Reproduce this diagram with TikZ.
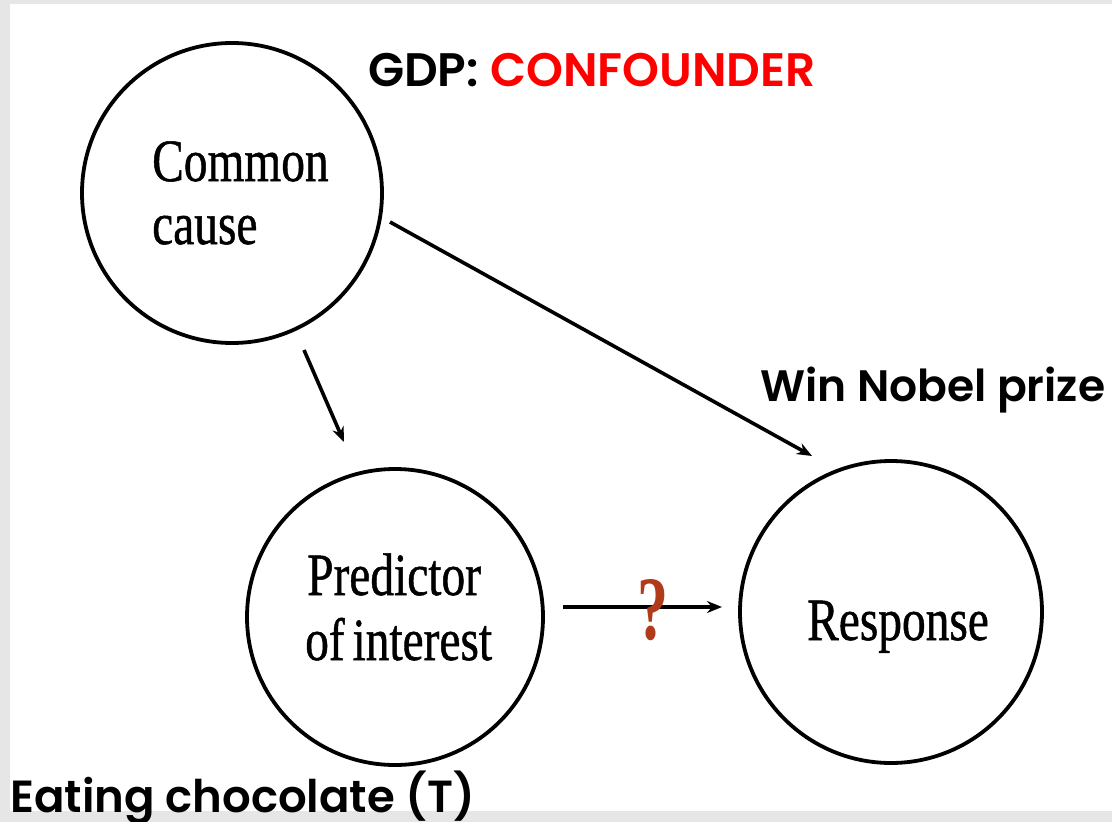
\documentclass[tikz,border=0pt]{standalone}
\usepackage{fontspec}
\usepackage{graphicx}
\setmainfont{Liberation Serif}
\newfontfamily\circfont{Liberation Serif}[FakeBold=0.9]
\newfontfamily\labelfont{Poppins}[UprightFont=* SemiBold]
\usetikzlibrary{arrows.meta}
\definecolor{framegray}{HTML}{E6E6E6}
\definecolor{qbrown}{HTML}{B03A1A}
\newcommand{\cz}[1]{\scalebox{0.79}[1]{#1}}
\tikzset{
  circ/.style={circle, draw=black, line width=3.8pt, minimum size=300pt, inner sep=0pt},
  ctext/.style={font=\circfont\fontsize{60}{62}\selectfont, inner sep=0pt, anchor=base west},
  conn/.style={line width=3.6pt, -{Stealth[length=15pt,width=12pt]}},
  lbl/.style={font=\labelfont\fontsize{47}{50}\selectfont, inner sep=0pt, anchor=base west}
}
\begin{document}
\begin{tikzpicture}[x=1pt,y=-1pt]
\useasboundingbox (0,0) rectangle (1112,822);
\clip (0,0) rectangle (1112,822);
\fill[framegray] (0,0) rectangle (1112,822);
\fill[white] (10,4) rectangle (1112,811);
\node[circ] (cc) at (232,193) {};
\node[circ, minimum size=296pt] (pi) at (395,617) {};
\node[circ, minimum size=302pt] (re) at (891,612) {};
\node[ctext] (t1) at (152,181) {\cz{Common}};
\node[ctext] (t2) at (152,244) {\cz{cause}};
\node[ctext] (t3) at (307,595) {\cz{Predictor}};
\node[ctext] (t4) at (305,660) {\cz{of\,interest}};
\node[ctext] (t5) at (807,640) {\cz{Response}};
\coordinate (a1s) at (304,350);
\coordinate (a1e) at (344,442);
\coordinate (a2s) at (390,222);
\coordinate (a2e) at (812,456);
\coordinate (a3s) at (563,607);
\coordinate (a3e) at (722,607);
\draw[conn] (a1s) -- (a1e);
\draw[conn] (a2s) -- (a2e);
\draw[conn] (a3s) -- (a3e);
\node[text=qbrown, inner sep=0pt, anchor=south] (q) at (653,641) {\resizebox{31pt}{60pt}{\bfseries ?}};
\node[lbl] (gdp) at (368,86) {GDP: \textcolor{red}{CONFOUNDER}};
\node[lbl, font=\labelfont\fontsize{44}{48}\selectfont] (win) at (760,401) {Win Nobel prize};
\node[lbl, font=\labelfont\fontsize{45}{48}\selectfont] (eat) at (10,812) {Eating chocolate (T)};
\end{tikzpicture}
\end{document}
